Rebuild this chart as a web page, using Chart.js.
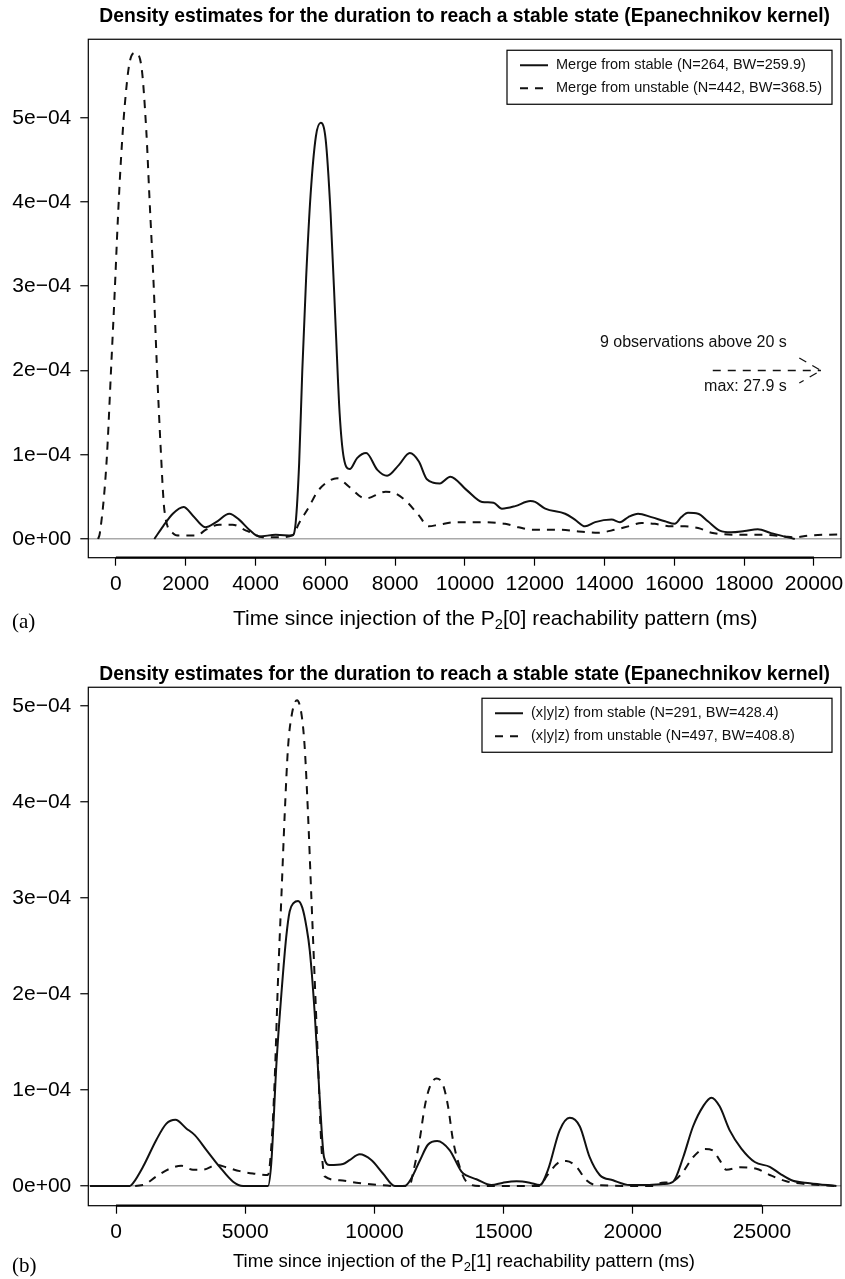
<!DOCTYPE html>
<html>
<head>
<meta charset="utf-8">
<script src="https://cdn.jsdelivr.net/npm/chart.js@4.4.1/dist/chart.umd.min.js"></script>
<style>
  body { margin: 0; background: #fff; }
  canvas { display: block; }
</style>
</head>
<body>
<canvas id="chartA" width="845" height="645"></canvas>
<canvas id="chartB" width="845" height="634"></canvas>
<script>
// time in ms, density in units of 1e-04
const stableA = [
  [1100,0],[1350,0.15],[1630,0.3],[1940,0.38],[2200,0.28],[2560,0.14],[2870,0.2],[3250,0.3],
  [3530,0.23],[3820,0.11],[4100,0.03],[4580,0.05],[5050,0.04],[5150,0.19],[5250,0.9],[5340,2.0],
  [5450,3.1],[5580,4.1],[5730,4.78],[5870,4.94],[6010,4.74],[6150,3.87],[6300,2.48],[6410,1.49],
  [6530,0.96],[6700,0.83],[6910,0.96],[7170,1.02],[7490,0.82],[7770,0.75],[8110,0.88],[8420,1.02],
  [8680,0.92],[8910,0.71],[9280,0.66],[9580,0.74],[10050,0.58],[10490,0.44],[10820,0.43],[11060,0.36],
  [11440,0.39],[11870,0.45],[12010,0.44],[12300,0.36],[12870,0.3],[13150,0.23],[13440,0.15],[13730,0.2],
  [14200,0.23],[14440,0.2],[14680,0.26],[14960,0.3],[15340,0.26],[15730,0.21],[16010,0.18],[16200,0.26],
  [16390,0.31],[16680,0.3],[16960,0.21],[17300,0.1],[17630,0.08],[18010,0.095],[18390,0.115],[18770,0.07],
  [19150,0.03],[19450,0]
];
const unstableA = [
  [-510,0],[-460,0.07],[-270,0.9],[-130,2.09],[-40,2.88],[60,3.83],[150,4.54],[250,5.13],[390,5.65],
  [560,5.77],[730,5.61],[870,4.85],[960,4.06],[1080,3.03],[1170,2.09],[1280,1.1],[1390,0.34],[1630,0.07],
  [1820,0.04],[2300,0.04],[2580,0.11],[2960,0.17],[3340,0.17],[3730,0.1],[3910,0.07],[4200,0.02],
  [4680,0.02],[5070,0.05],[5250,0.19],[5530,0.38],[5770,0.56],[6070,0.68],[6340,0.72],[6680,0.62],
  [7150,0.48],[7730,0.56],[8010,0.54],[8340,0.44],[8680,0.28],[8960,0.15],[9250,0.17],[9730,0.2],
  [10250,0.2],[11150,0.18],[11530,0.14],[11910,0.11],[12770,0.11],[13250,0.09],[13820,0.075],[14300,0.11],
  [14680,0.15],[15060,0.19],[15440,0.18],[15910,0.15],[16300,0.15],[16680,0.13],[17060,0.075],[17440,0.055],
  [18010,0.05],[18580,0.05],[19150,0.03],[19440,0.02],[19820,0.04],[20700,0.055]
];
const stableB = [
  [-1000,0],[530,0],[660,0.03],[1045,0.2],[1560,0.48],[1950,0.65],[2300,0.69],[2720,0.6],[3050,0.53],
  [3500,0.375],[4010,0.2],[4530,0.045],[4920,0],[5880,0],[6010,0.24],[6210,1.28],[6400,2.0],[6590,2.6],
  [6720,2.86],[6880,2.95],[7045,2.97],[7210,2.9],[7370,2.7],[7500,2.45],[7690,1.8],[7880,0.93],[8050,0.3],[8270,0.22],
  [8785,0.23],[9040,0.27],[9430,0.33],[9880,0.27],[10330,0.13],[10790,0],[11170,0],[11430,0.08],
  [11750,0.26],[12070,0.43],[12430,0.47],[12910,0.375],[13370,0.15],[13560,0.11],[13950,0.07],[14530,0.01],
  [14980,0.035],[15500,0.05],[16010,0.035],[16400,0.01],[16720,0.17],[17170,0.58],[17560,0.71],[17950,0.62],
  [18330,0.3],[18720,0.115],[19235,0.06],[19880,0.01],[20530,0.01],[21170,0.02],[21560,0.045],[21950,0.3],
  [22330,0.62],[22720,0.83],[23040,0.92],[23360,0.83],[23750,0.58],[24200,0.39],[24720,0.25],[25300,0.2],
  [25690,0.13],[26200,0.055],[26850,0.03],[27880,0]
];
const unstableB = [
  [-1000,0],[500,0],[1045,0.01],[1560,0.1],[2080,0.18],[2530,0.21],[2980,0.17],[3370,0.17],[3890,0.22],
  [4270,0.195],[4790,0.155],[5300,0.13],[5880,0.115],[6010,0.41],[6140,1.1],[6270,2.15],[6400,3.01],
  [6530,3.88],[6660,4.58],[6810,4.92],[7005,5.06],[7175,4.92],[7300,4.58],[7430,3.88],[7560,3.01],
  [7690,2.15],[7820,1.28],[7950,0.41],[8080,0.1],[8660,0.06],[9300,0.035],[10200,0.01],[10850,0],
  [11370,0.01],[11490,0.13],[11750,0.48],[11950,0.83],[12140,1.03],[12400,1.12],[12660,1.05],[12850,0.83],
  [13040,0.48],[13300,0.2],[13560,0.045],[14080,0],[16400,0],[16660,0.1],[17170,0.25],[17430,0.26],
  [17820,0.2],[18200,0.06],[18590,0.01],[20780,0],[21040,0.03],[21560,0.05],[21950,0.15],[22330,0.3],
  [22780,0.385],[23100,0.37],[23360,0.27],[23620,0.17],[24140,0.195],[24780,0.18],[25300,0.115],[25940,0.05],
  [26720,0.02],[27880,0]
];

const legendA = ['Merge from stable (N=264, BW=259.9)', 'Merge from unstable (N=442, BW=368.5)'];
const legendB = ['(x|y|z) from stable (N=291, BW=428.4)', '(x|y|z) from unstable (N=497, BW=408.8)'];
const xTicksA = [0, 2000, 4000, 6000, 8000, 10000, 12000, 14000, 16000, 18000, 20000];
const xTicksB = [0, 5000, 10000, 15000, 20000, 25000];
const yTicks = [0, 1, 2, 3, 4, 5];
const yTickLabels = ['0e+00', '1e\u221204', '2e\u221204', '3e\u221204', '4e\u221204', '5e\u221204'];
const tailNote = { from: 17100, to: 20200, y: 2.0, lines: ['9 observations above 20 s', 'max: 27.9 s'] };

const TITLE = 'Density estimates for the duration to reach a stable state (Epanechnikov kernel)';
const DASH = [8, 7];
const SANS = '"Liberation Sans", Arial, Helvetica, sans-serif';

Chart.defaults.font.family = SANS;
Chart.defaults.color = '#000';

// box, legend, x title with subscript, panel letter and the arrow note
const panel = {
  id: 'panel',
  afterDraw(chart, args, opts) {
    const {ctx, chartArea: a, scales: {x, y}} = chart;
    ctx.save();
    ctx.strokeStyle = '#000';
    ctx.lineWidth = 1.2;
    ctx.strokeRect(a.left, a.top, a.right - a.left, a.bottom - a.top);
    const tk = x.ticks;
    ctx.lineWidth = 2.2;
    ctx.beginPath();
    ctx.moveTo(x.getPixelForValue(tk[0].value), a.bottom);
    ctx.lineTo(x.getPixelForValue(tk[tk.length - 1].value), a.bottom);
    ctx.stroke();

    // legend
    ctx.font = '14.5px ' + SANS;
    ctx.textBaseline = 'middle';
    ctx.textAlign = 'left';
    const right = a.right - 9, top = a.top + 11;
    const w = opts.legendW, h = 54;
    const left = right - w;
    ctx.lineWidth = 1.2;
    ctx.fillStyle = '#fff';
    ctx.fillRect(left, top, w, h);
    ctx.strokeRect(left, top, w, h);
    chart.data.datasets.forEach((d, i) => {
      const ly = top + 15 + i * 23;
      ctx.setLineDash(d.borderDash || []);
      ctx.lineWidth = 2;
      ctx.strokeStyle = '#111';
      ctx.beginPath();
      ctx.moveTo(left + 13, ly);
      ctx.lineTo(left + 41, ly);
      ctx.stroke();
      ctx.fillStyle = '#111';
      ctx.fillText(d.label, left + 49, ly);
    });
    ctx.setLineDash([]);

    // x axis title, P with subscript 2
    const t = opts.xTitle;
    let tx = t.x;
    ctx.fillStyle = '#000';
    t.parts.forEach((p, i) => {
      const sub = i === 1;
      ctx.font = (sub ? t.size * 0.7 : t.size) + 'px ' + SANS;
      ctx.fillText(p, tx, t.y + (sub ? t.size * 0.3 : 0));
      tx += ctx.measureText(p).width;
    });

    // panel letter
    ctx.font = '21px "Liberation Serif", "Times New Roman", serif';
    ctx.fillText(opts.letter, 12, opts.letterY);

    // arrow note
    const n = opts.note;
    if (n) {
      const x0 = x.getPixelForValue(n.from), x1 = x.getPixelForValue(n.to), py = y.getPixelForValue(n.y);
      ctx.strokeStyle = '#111';
      ctx.lineWidth = 1.3;
      ctx.setLineDash(DASH);
      ctx.beginPath();
      ctx.moveTo(x0, py);
      ctx.lineTo(x1, py);
      ctx.stroke();
      const L = 25, ang = Math.PI / 6;
      ctx.beginPath();
      ctx.moveTo(x1 - L * Math.cos(ang), py - L * Math.sin(ang));
      ctx.lineTo(x1, py);
      ctx.lineTo(x1 - L * Math.cos(ang), py + L * Math.sin(ang));
      ctx.stroke();
      ctx.setLineDash([]);
      ctx.font = '16px ' + SANS;
      ctx.textAlign = 'right';
      ctx.fillStyle = '#111';
      ctx.fillText(n.lines[0], x0 + 74, py - 28);
      ctx.fillText(n.lines[1], x0 + 74, py + 16);
    }
    ctx.restore();
  }
};

function densityChart(id, o) {
  return new Chart(document.getElementById(id), {
    type: 'line',
    data: {
      datasets: [
        {
          label: o.labels[0],
          data: o.stable.map(([x, y]) => ({x, y})),
          borderColor: '#111',
          borderWidth: 2,
          pointRadius: 0,
          cubicInterpolationMode: 'monotone'
        },
        {
          label: o.labels[1],
          data: o.unstable.map(([x, y]) => ({x, y})),
          borderColor: '#111',
          borderWidth: 2,
          borderDash: DASH,
          pointRadius: 0,
          cubicInterpolationMode: 'monotone'
        }
      ]
    },
    options: {
      responsive: false,
      animation: false,
      layout: { padding: { left: 0, right: 4, top: 0, bottom: 0 } },
      plugins: {
        legend: { display: false },
        tooltip: { enabled: false },
        title: {
          display: true,
          fullSize: false,
          text: TITLE,
          color: '#000',
          font: { size: 19.3, weight: 'bold' },
          padding: o.titlePad
        },
        panel: { letter: o.letter, letterY: o.letterY, note: o.note, legendW: o.legendW, xTitle: o.xTitle }
      },
      scales: {
        x: {
          type: 'linear',
          min: o.xMin,
          max: o.xMax,
          afterBuildTicks: s => { s.ticks = o.xTicks.map(value => ({value})); },
          afterFit: s => { s.height = o.xAxisH; s.paddingLeft = 0; s.paddingRight = 0; },
          border: { display: false },
          grid: { drawOnChartArea: false, tickLength: 8, tickColor: '#000', tickWidth: 1.2 },
          ticks: {
            autoSkip: false,
            maxRotation: 0,
            padding: 6,
            color: '#000',
            font: { size: 21 },
            callback: v => String(v)
          }
        },
        y: {
          min: o.yMin,
          max: o.yMax,
          afterBuildTicks: s => { s.ticks = yTicks.map(value => ({value})); },
          afterFit: s => { s.width = 88.3; s.paddingTop = 0; s.paddingBottom = 0; },
          border: { display: false },
          grid: {
            color: c => (c.tick && c.tick.value === 0 ? '#a9a9a9' : 'rgba(0,0,0,0)'),
            lineWidth: 1.5,
            tickColor: '#000',
            tickLength: 8,
            tickWidth: 1.2
          },
          ticks: {
            autoSkip: false,
            padding: 9,
            color: '#000',
            font: { size: 21 },
            callback: (v, i) => yTickLabels[i]
          }
        }
      }
    },
    plugins: [panel]
  });
}

densityChart('chartA', {
  stable: stableA, unstable: unstableA, labels: legendA, legendW: 325,
  xMin: -791, xMax: 20774, xTicks: xTicksA, yMin: -0.222, yMax: 5.931,
  titlePad: { top: 5, bottom: 11.1 }, xAxisH: 87.3,
  xTitle: { parts: ['Time since injection of the P', '2', '[0] reachability pattern (ms)'], size: 21, x: 233, y: 619 },
  letter: '(a)', letterY: 622, note: tailNote
});

densityChart('chartB', {
  stable: stableB, unstable: unstableB, labels: legendB, legendW: 350,
  xMin: -1072, xMax: 28057, xTicks: xTicksB, yMin: -0.205, yMax: 5.195,
  titlePad: { top: 18.4, bottom: 0.7 }, xAxisH: 73.3,
  xTitle: { parts: ['Time since injection of the P', '2', '[1] reachability pattern (ms)'], size: 18.5, x: 233, y: 617 },
  letter: '(b)', letterY: 621, note: null
});
</script>
</body>
</html>
